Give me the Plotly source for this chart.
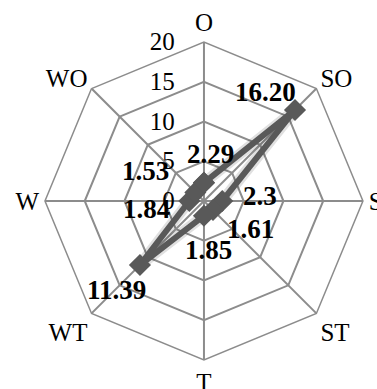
import math
import plotly.graph_objects as go

# Wind directions (clockwise from north) and their values
directions = ["O", "SO", "S", "ST", "T", "WT", "W", "WO"]
values = [2.29, 16.20, 2.3, 1.61, 1.85, 11.39, 1.84, 1.53]
labels = ["2.29", "16.20", "2.3", "1.61", "1.85", "11.39", "1.84", "1.53"]
# pixel offsets of each value label from its point (right, up)
label_dx = [7, -30, 38, 37, 5, -23, -43, -50]
label_dy = [29, 18, 5, -19, -34, -25, -8, 21]
radial_ticks = [0, 5, 10, 15, 20]
R_MAX = 20

GRID = "#8c8c8c"
SERIES = "#595959"
FONT = "Liberation Serif, Times New Roman, serif"

DOM_X = [0.119, 0.963]
DOM_Y = [0.0746, 0.892]

theta = directions + directions[:1]
r = values + values[:1]

fig = go.Figure()

# soft halo under the series line
fig.add_trace(go.Scatterpolar(
    r=r, theta=theta, mode="lines",
    line=dict(color="rgba(0,0,0,0.12)", width=11),
    hoverinfo="skip", showlegend=False,
))

fig.add_trace(go.Scatterpolar(
    r=r, theta=theta, mode="lines+markers",
    line=dict(color=SERIES, width=6),
    marker=dict(symbol="diamond", size=17, color=SERIES),
    showlegend=False,
))

# invisible cartesian frame laid over the polar area, used to place value labels
fig.add_trace(go.Scatter(x=[None], y=[None], xaxis="x", yaxis="y",
                         showlegend=False, hoverinfo="skip"))

step = 360 / len(directions)
for i, (v, txt) in enumerate(zip(values, labels)):
    ang = math.radians(i * step)
    fig.add_annotation(
        x=v * math.sin(ang), y=v * math.cos(ang), xref="x", yref="y",
        text=txt, showarrow=False,
        xshift=label_dx[i], yshift=label_dy[i],
        font=dict(family=FONT, size=27, color="black", weight="bold"),
    )

fig.update_layout(
    width=377, height=389,
    margin=dict(l=0, r=0, t=0, b=0),
    paper_bgcolor="white",
    plot_bgcolor="rgba(0,0,0,0)",
    font=dict(family=FONT, size=25, color="black"),
    xaxis=dict(domain=DOM_X, range=[-R_MAX, R_MAX], visible=False, fixedrange=True),
    yaxis=dict(domain=DOM_Y, range=[-R_MAX, R_MAX], visible=False, fixedrange=True),
    polar=dict(
        domain=dict(x=DOM_X, y=DOM_Y),
        bgcolor="white",
        gridshape="linear",
        angularaxis=dict(
            categoryarray=directions, categoryorder="array",
            direction="clockwise", rotation=90,
            showline=True, linecolor=GRID, linewidth=1.5,
            gridcolor=GRID, gridwidth=1.5, ticks="",
            tickfont=dict(family=FONT, size=25, color="black"),
        ),
        radialaxis=dict(
            range=[0, R_MAX], tickvals=radial_ticks, angle=90, tickangle=90,
            showline=False, gridcolor=GRID, gridwidth=1.5,
            ticks="outside", ticklen=20, tickcolor="rgba(0,0,0,0)",
            side="counterclockwise",
            tickfont=dict(family=FONT, size=25, color="black"),
        ),
    ),
)

fig.write_html("out.html")
